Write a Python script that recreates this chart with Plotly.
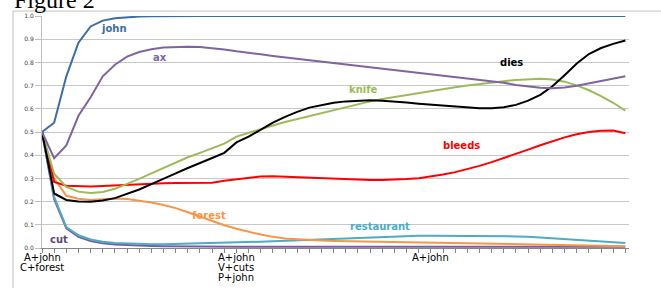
import plotly.graph_objects as go

n_points = 49
x_idx = list(range(n_points))

john = [0.5, 0.54, 0.74, 0.885, 0.955, 0.98, 0.99, 0.995, 0.998, 0.999] + [1.0] * 39

ax = [0.5, 0.387, 0.442, 0.57, 0.65, 0.74, 0.79, 0.825, 0.845, 0.857,
      0.864, 0.867, 0.867, 0.866, 0.862, 0.856, 0.848, 0.843, 0.835, 0.828,
      0.822, 0.815, 0.81, 0.804, 0.798, 0.792, 0.786, 0.78, 0.775, 0.769,
      0.763, 0.757, 0.751, 0.745, 0.738, 0.731, 0.726, 0.72, 0.712, 0.703,
      0.696, 0.691, 0.689, 0.692, 0.699, 0.709, 0.72, 0.73, 0.74]

knife = [0.5, 0.32, 0.263, 0.243, 0.237, 0.241, 0.255, 0.275, 0.298, 0.322,
         0.345, 0.368, 0.391, 0.41, 0.43, 0.45, 0.48, 0.497, 0.513, 0.528,
         0.543, 0.556, 0.569, 0.582, 0.595, 0.607, 0.62, 0.632, 0.642, 0.651,
         0.66, 0.669, 0.677, 0.685, 0.693, 0.7, 0.707, 0.713, 0.719, 0.724,
         0.728, 0.729, 0.726, 0.717, 0.701, 0.68, 0.655, 0.626, 0.592]

dies = [0.5, 0.235, 0.207, 0.2, 0.199, 0.205, 0.215, 0.232, 0.252, 0.275,
        0.3, 0.322, 0.345, 0.368, 0.388, 0.41, 0.455, 0.48, 0.51, 0.54,
        0.565, 0.587, 0.605, 0.617, 0.626, 0.632, 0.636, 0.637, 0.635, 0.632,
        0.627, 0.622, 0.618, 0.613, 0.609, 0.605, 0.602, 0.602, 0.607, 0.617,
        0.635, 0.66, 0.697, 0.745, 0.795, 0.836, 0.862, 0.88, 0.894]

bleeds = [0.5, 0.285, 0.268, 0.265, 0.265, 0.267, 0.27, 0.273, 0.276, 0.278,
          0.279, 0.28, 0.28, 0.28, 0.281, 0.29, 0.297, 0.304, 0.308, 0.309,
          0.307, 0.304, 0.301, 0.298, 0.296, 0.294, 0.293, 0.293, 0.293, 0.294,
          0.297, 0.301, 0.308, 0.317, 0.327, 0.34, 0.354, 0.37, 0.387, 0.405,
          0.424, 0.443, 0.461, 0.477, 0.49, 0.5, 0.505, 0.506, 0.495]

forest = [0.5, 0.3, 0.225, 0.212, 0.207, 0.21, 0.213, 0.211, 0.205, 0.196,
          0.185, 0.172, 0.154, 0.135, 0.115, 0.098, 0.083, 0.07, 0.058, 0.048,
          0.041, 0.038, 0.034, 0.032, 0.03, 0.029, 0.028, 0.027, 0.026, 0.025,
          0.024, 0.023, 0.022, 0.021, 0.021, 0.02, 0.019, 0.018, 0.018, 0.017,
          0.016, 0.015, 0.014, 0.013, 0.012, 0.011, 0.01, 0.009, 0.008]

restaurant = [0.5, 0.22, 0.09, 0.055, 0.037, 0.027, 0.022, 0.019, 0.017, 0.016,
              0.016, 0.017, 0.018, 0.019, 0.02, 0.021, 0.023, 0.025, 0.027, 0.029,
              0.031, 0.034, 0.036, 0.039, 0.041, 0.044, 0.046, 0.048, 0.05, 0.051,
              0.052, 0.053, 0.053, 0.053, 0.053, 0.053, 0.053, 0.053, 0.052, 0.05,
              0.048, 0.045, 0.042, 0.038, 0.035, 0.031, 0.028, 0.025, 0.022]

cut = [0.5, 0.21, 0.085, 0.048, 0.03, 0.02, 0.015, 0.012, 0.01, 0.009,
       0.008, 0.007, 0.007, 0.006, 0.006, 0.006, 0.005, 0.005, 0.005, 0.005,
       0.005, 0.005, 0.005, 0.005, 0.005, 0.005, 0.005, 0.005, 0.005, 0.005,
       0.005, 0.005, 0.005, 0.005, 0.005, 0.005, 0.005, 0.005, 0.005, 0.005,
       0.005, 0.005, 0.005, 0.005, 0.005, 0.005, 0.005, 0.005, 0.005]

series_names = ["cut", "restaurant", "forest", "bleeds", "knife", "dies", "ax", "john"]
series_values = [cut, restaurant, forest, bleeds, knife, dies, ax, john]
series_colors = ["#7A5C9E", "#4BACC6", "#F79646", "#FF0000", "#9BBB59", "#000000", "#8064A2", "#3A6EA5"]

# label positions (x index, y value)
label_x = [1.4, 27.8, 13.75, 34.5, 26.45, 38.65, 9.7, 5.95]
label_y = [0.036, 0.092, 0.139, 0.442, 0.684, 0.80, 0.823, 0.945]
label_colors = ["#604A7B", "#4BACC6", "#F79646", "#FF0000", "#9BBB59", "#000000", "#8064A2", "#3A6EA5"]

tick_positions = [0, 16, 32]
tick_labels = ["A+john<br>C+forest", "A+john<br>V+cuts<br>P+john", "A+john"]

y_ticks = [0.0, 0.1, 0.2, 0.3, 0.4, 0.5, 0.6, 0.7, 0.8, 0.9, 1.0]
y_tick_labels = ["0.0", "0.1", "0.2", "0.3", "0.4", "0.5", "0.6", "0.7", "0.8", "0.9", "1.0"]

fig = go.Figure()
for name, vals, col in zip(series_names, series_values, series_colors):
    fig.add_trace(go.Scatter(x=x_idx, y=vals, mode="lines", name=name,
                             line=dict(color=col, width=2), showlegend=False))

annotations = []
for name, lx, ly, lc in zip(series_names, label_x, label_y, label_colors):
    annotations.append(dict(x=lx, y=ly, xref="x", yref="y", text=name, showarrow=False,
                            font=dict(family="DejaVu Sans", size=10, color=lc, weight="bold"),
                            xanchor="center", yanchor="middle"))

for tp, tl in zip(tick_positions, tick_labels):
    for k, line in enumerate(tl.split("<br>")):
        annotations.append(dict(x=tp, y=0, xref="x", yref="paper", text=line, showarrow=False,
                                font=dict(family="DejaVu Sans", size=10, color="#000000"),
                                xanchor="center", yanchor="middle", yshift=-9.5 - 10 * k))

annotations.append(dict(xref="paper", yref="paper", x=(12 - 42) / 587, y=(248 - 12) / 235,
                        text="Figure 2", showarrow=False, xanchor="left", yanchor="bottom",
                        font=dict(family="Liberation Serif", size=24, color="#000000")))

fig.update_layout(
    width=661, height=288,
    margin=dict(l=42, r=32, t=13, b=40),
    paper_bgcolor="white", plot_bgcolor="white",
    annotations=annotations,
    shapes=[dict(type="rect", xref="paper", yref="paper",
                 x0=(13 - 42) / 587, x1=1.2, y0=-0.3, y1=(248 - 8) / 235,
                 line=dict(color="#BFBFBF", width=1))],
)
fig.update_xaxes(range=[0, 48.3], tickvals=x_idx, ticks="outside", ticklen=4,
                 tickcolor="#868686", showticklabels=False, showgrid=False,
                 showline=True, linecolor="#868686", linewidth=1, zeroline=False)
fig.update_yaxes(range=[0, 1], tickvals=y_ticks, ticktext=y_tick_labels,
                 ticks="outside", ticklen=6, tickcolor="#BFBFBF",
                 showgrid=True, gridcolor="#C8C8C8", gridwidth=1,
                 showline=True, linecolor="#BFBFBF", zeroline=False,
                 tickfont=dict(family="DejaVu Sans", size=6, color="#404040"))

fig.write_html("out.html", config={"displayModeBar": False},
               post_script="document.body.style.margin='0px';document.body.style.overflow='hidden';")
